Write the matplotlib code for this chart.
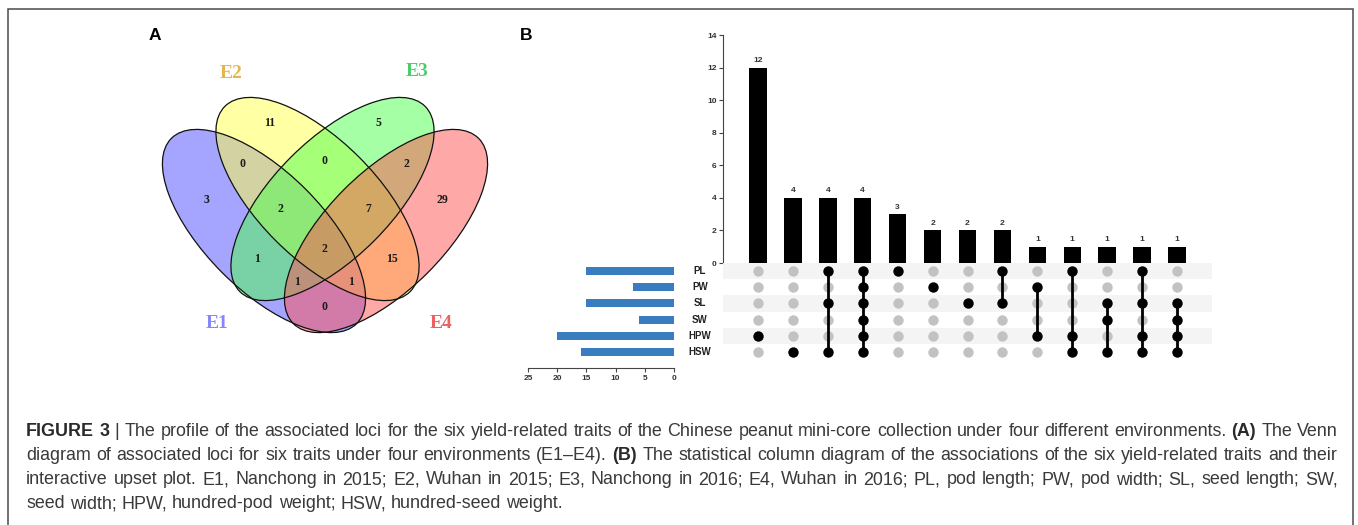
import matplotlib
matplotlib.use("Agg")
import numpy as np
import matplotlib.pyplot as plt
from matplotlib.patches import Ellipse, Rectangle
from matplotlib.transforms import blended_transform_factory

W, H = 1358, 525

# Panel A: loci shared between environments
env_names = ["E1", "E2", "E3", "E4"]
region_names = ["E1", "E2", "E3", "E4", "E1E2", "E2E3", "E3E4", "E1E3", "E2E4",
                "E1E4", "E1E2E3", "E2E3E4", "E1E3E4", "E1E2E4", "E1E2E3E4"]
region_counts = [3, 11, 5, 29, 0, 0, 2, 1, 15, 0, 2, 7, 1, 1, 2]

# Panel B: trait set sizes and intersections
traits = ["PL", "PW", "SL", "SW", "HPW", "HSW"]
trait_sizes = [15, 7, 15, 6, 20, 16]
inter_sizes = [12, 4, 4, 4, 3, 2, 2, 2, 1, 1, 1, 1, 1]
inter_sets = [["HPW"], ["HSW"], ["PL", "SL", "HSW"],
              ["PL", "PW", "SL", "SW", "HPW", "HSW"], ["PL"], ["PW"], ["SL"],
              ["PL", "SL"], ["PW", "HPW"], ["PL", "HPW", "HSW"],
              ["SL", "SW", "HSW"], ["PL", "SL", "HPW", "HSW"],
              ["SL", "SW", "HPW", "HSW"]]

fig = plt.figure(figsize=(W / 100, H / 100), dpi=100)


def px_axes(l, t, r, b):
    return fig.add_axes([l / W, 1 - b / H, (r - l) / W, (b - t) / H])


# outer frame
fig.add_artist(Rectangle((7.5 / W, -0.2), (1353 - 7.5) / W, 1.2 - 8.5 / H,
                         transform=fig.transFigure, fill=False,
                         edgecolor="#4a4a4a", lw=1.1))

# ---------------- Venn diagram ----------------
axv = px_axes(140, 45, 510, 395)
axv.set_xlim(140, 510)
axv.set_ylim(395, 45)
axv.axis("off")

fills = ["#4d4dff", "#ffff48", "#4cff4c", "#ff5252"]
label_cols = ["#8686f6", "#e6b64c", "#4ccd6c", "#ea6262"]
centres = [(264, 231), (317.5, 199), (332.5, 199), (386, 231)]
angles = [45, 45, -45, -45]
for c, a, f in zip(centres, angles, fills):
    axv.add_patch(Ellipse(c, 262, 118, angle=a, facecolor=f, alpha=0.5,
                          edgecolor="none"))
for c, a in zip(centres, angles):
    axv.add_patch(Ellipse(c, 262, 118, angle=a, facecolor="none",
                          edgecolor="#111111", lw=0.9))

label_xy = [(217, 323), (231, 73), (417, 72), (441, 323)]
for (x, y), name, col in zip(label_xy, env_names, label_cols):
    axv.text(x, y, name, color=col, fontsize=14, fontweight="bold",
             family="Liberation Serif", ha="center", va="center")

region_xy = [(207, 200), (270, 123), (378, 123), (442, 200), (243, 164),
             (324, 161), (406, 164), (257, 259), (392, 259), (324, 307),
             (280, 209), (368, 209), (297, 282), (351, 282), (324, 249)]
for (x, y), n in zip(region_xy, region_counts):
    axv.text(x, y, str(n), fontsize=8.5, fontweight="bold",
             family="Liberation Serif", color="#1a1a1a",
             ha="center", va="center")

# ---------------- UpSet plot ----------------
tick_font = dict(family="Liberation Sans", weight="bold", size=6)

ax_bar = px_axes(723, 35, 1212, 263)
xs = np.arange(len(inter_sizes))
ax_bar.bar(xs, inter_sizes, width=0.5, color="black")
for x, v in zip(xs, inter_sizes):
    ax_bar.annotate(str(v), (x, v), xytext=(0, 2.5), textcoords="offset points",
                    ha="center", va="bottom", color="#333333", **tick_font)
ax_bar.set_xlim(-1, len(inter_sizes))
ax_bar.set_ylim(0, 14)
ax_bar.set_yticks(range(0, 15, 2))
ax_bar.set_xticks([])
for s in ["top", "right", "bottom"]:
    ax_bar.spines[s].set_visible(False)
ax_bar.spines["left"].set_color("#444444")
ax_bar.spines["left"].set_linewidth(0.8)
ax_bar.tick_params(axis="y", length=3, width=0.8, color="#444444", pad=1.5)
for lab in ax_bar.get_yticklabels():
    lab.set(color="#333333", **tick_font)

ax_mat = px_axes(723, 263, 1212, 360)
ax_mat.set_xlim(-1, len(inter_sizes))
ax_mat.set_ylim(len(traits) - 0.5, -0.5)
ax_mat.axis("off")
for i in range(0, len(traits), 2):
    ax_mat.axhspan(i - 0.5, i + 0.5, color="#f4f4f4", lw=0, zorder=0)
rows = np.arange(len(traits))
for x, members in zip(xs, inter_sets):
    hit = [traits.index(m) for m in members]
    miss = [r for r in rows if r not in hit]
    ax_mat.scatter([x] * len(miss), miss, s=56, color="#c2c2c2", lw=0, zorder=2)
    if len(hit) > 1:
        ax_mat.plot([x, x], [min(hit), max(hit)], color="black", lw=2.0,
                    zorder=3, solid_capstyle="butt")
    ax_mat.scatter([x] * len(hit), hit, s=56, color="black", lw=0, zorder=4)

ax_sz = px_axes(528, 263, 674, 360)
ax_sz.barh(rows, trait_sizes, height=0.5, color="#3a7dbf")
ax_sz.set_xlim(25, 0)
ax_sz.set_ylim(len(traits) - 0.5, -0.5)
ax_sz.set_xticks([25, 20, 15, 10, 5, 0])
ax_sz.set_yticks([])
for s in ["top", "right", "left"]:
    ax_sz.spines[s].set_visible(False)
ax_sz.spines["bottom"].set_position(("outward", 6))
ax_sz.spines["bottom"].set_color("#444444")
ax_sz.spines["bottom"].set_linewidth(0.8)
ax_sz.tick_params(axis="x", length=3, width=0.8, color="#444444", pad=1.5)
for lab in ax_sz.get_xticklabels():
    lab.set(color="#333333", **tick_font)
row_tr = blended_transform_factory(ax_sz.transAxes, ax_sz.transData)
for r, t in zip(rows, traits):
    ax_sz.text(1.178, r, t, transform=row_tr, ha="center", va="center",
               color="#222222", family="Liberation Sans", weight="bold", size=7)

# panel letters
fig.text(154.5 / W, 1 - 35.5 / H, "A", ha="center", va="center",
         family="Liberation Sans", weight="bold", size=12.5)
fig.text(526.5 / W, 1 - 35.5 / H, "B", ha="center", va="center",
         family="Liberation Sans", weight="bold", size=12.5)

# ---------------- caption ----------------
caption = [
    [("FIGURE 3", True), ("| The profile of the associated loci for the six yield-related "
      "traits of the Chinese peanut mini-core collection under four different "
      "environments.", False), ("(A)", True), ("The Venn", False)],
    [("diagram of associated loci for six traits under four environments (E1\u2013E4).", False),
     ("(B)", True), ("The statistical column diagram of the associations of the six "
      "yield-related traits and their", False)],
    [("interactive upset plot. E1, Nanchong in 2015; E2, Wuhan in 2015; E3, Nanchong "
      "in 2016; E4, Wuhan in 2016; PL, pod length; PW, pod width; SL, seed length; SW,", False)],
    [("seed width; HPW, hundred-pod weight; HSW, hundred-seed weight.", False)],
]
baselines = [436.5, 460.5, 484.5, 508.5]
renderer = fig.canvas.get_renderer()
x_left, x_right = 26, 1338


def split_words(segs):
    words = []
    for txt, bold in segs:
        words += [(w, bold) for w in txt.split()]
    return words


def word_widths(words, size):
    out = []
    for w, bold in words:
        t = fig.text(0, 0, w, size=size, family="Liberation Sans",
                     weight="bold" if bold else "normal")
        out.append(t.get_window_extent(renderer).width)
        t.remove()
    return out


# pick the size at which the first line fills the column naturally
probe = split_words(caption[0])
pw = word_widths(probe, 10)
natural = sum(pw) + (len(probe) - 1) * 10 * 0.278 * 100 / 72
cap_size = 10 * (x_right - x_left) / natural


def draw_line(segs, base, justify):
    words = split_words(segs)
    widths = word_widths(words, cap_size)
    gap = cap_size * 0.278 * 100 / 72
    if justify:
        gap = (x_right - x_left - sum(widths)) / (len(words) - 1)
    x = x_left
    for (w, bold), wd in zip(words, widths):
        fig.text(x / W, 1 - base / H, w, size=cap_size,
                 family="Liberation Sans",
                 weight="bold" if bold else "normal",
                 color="#2a2a2a" if bold else "#3a3a3a", va="baseline")
        x += wd + gap


for i, (segs, base) in enumerate(zip(caption, baselines)):
    draw_line(segs, base, justify=i < 3)

fig.savefig("out.png", dpi=100)
